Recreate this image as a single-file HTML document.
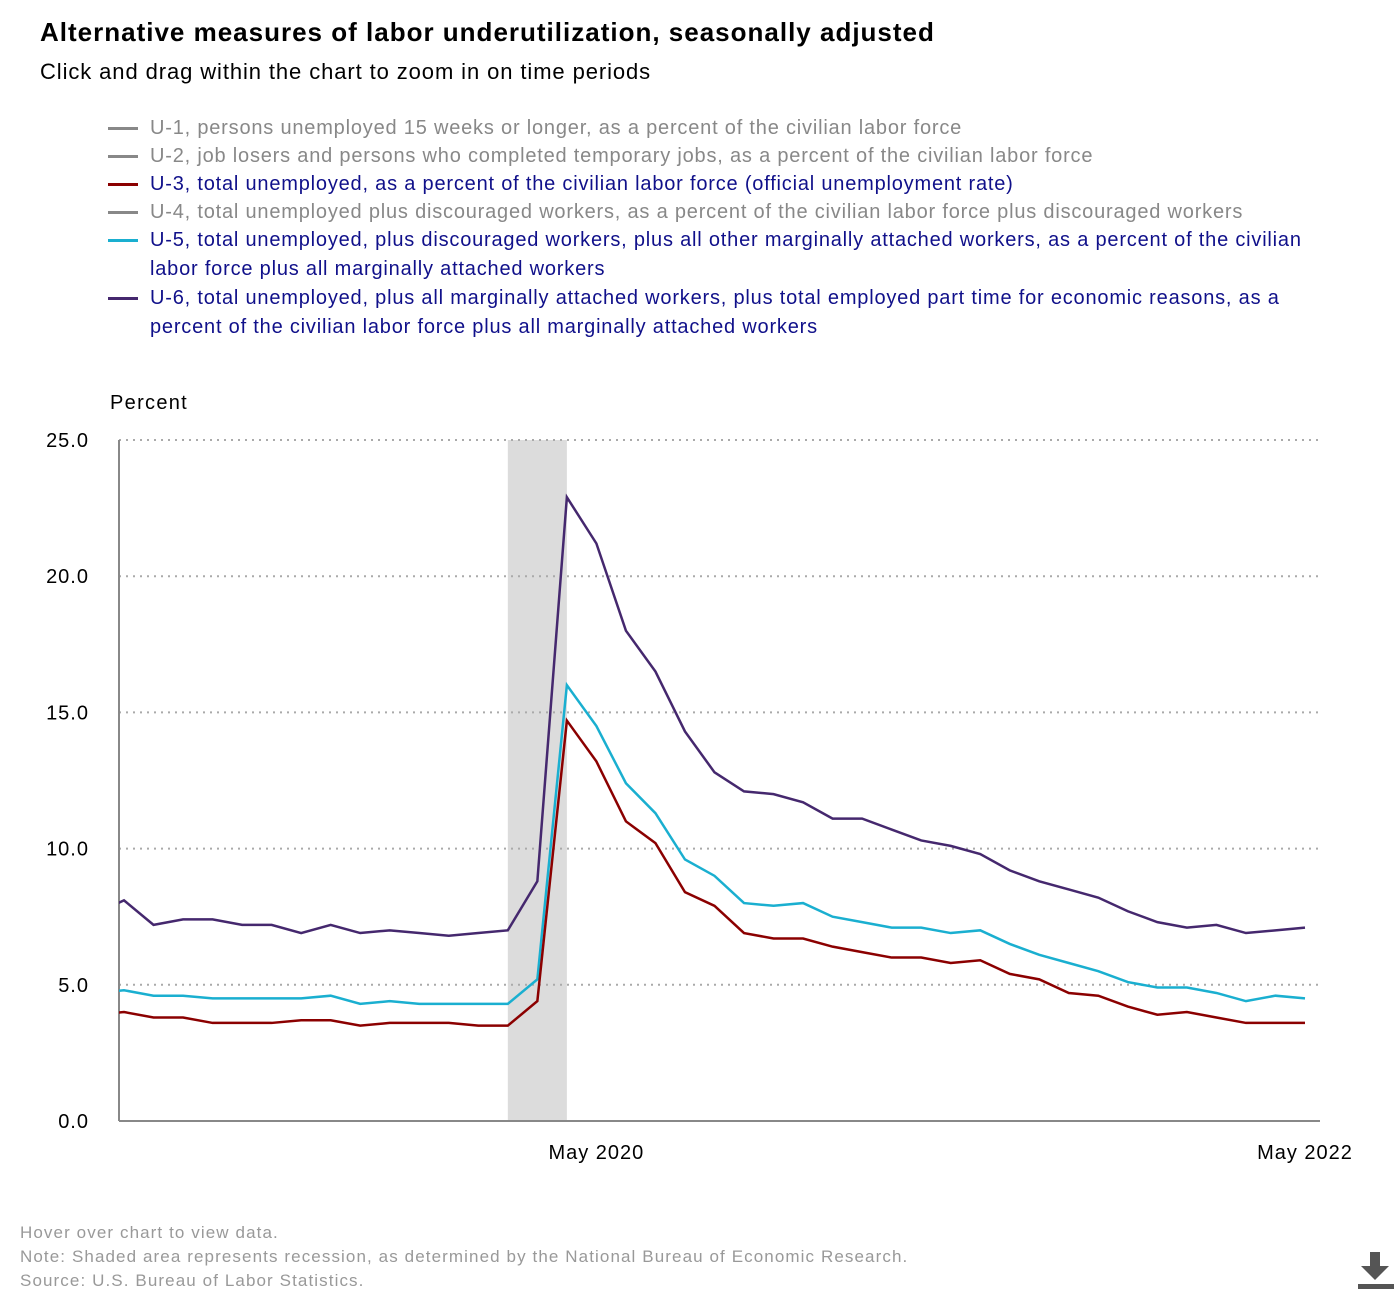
<!DOCTYPE html>
<html><head><meta charset="utf-8">
<style>
body{margin:0;width:1400px;height:1300px;background:#fff;font-family:"Liberation Sans",sans-serif;overflow:hidden;position:relative}
.t{position:absolute;white-space:nowrap}
.leg{position:absolute;left:108px;font-size:20px;line-height:29px;letter-spacing:0.8px}
.leg .mk{position:absolute;left:0;top:13px;width:30px;height:3px}
.leg .tx{margin-left:42px;display:block}
</style></head><body>
<div class="t" style="left:40px;top:17px;font-size:26px;font-weight:bold;letter-spacing:1px">Alternative measures of labor underutilization, seasonally adjusted</div>
<div class="t" style="left:40px;top:59px;font-size:22px;letter-spacing:0.9px">Click and drag within the chart to zoom in on time periods</div>

<div class="leg" style="top:114px;color:#888"><span class="mk" style="background:#888"></span><span class="tx">U-1, persons unemployed 15 weeks or longer, as a percent of the civilian labor force</span></div>
<div class="leg" style="top:142px;color:#888"><span class="mk" style="background:#888"></span><span class="tx">U-2, job losers and persons who completed temporary jobs, as a percent of the civilian labor force</span></div>
<div class="leg" style="top:170px;color:#10108a"><span class="mk" style="background:#8b0000"></span><span class="tx">U-3, total unemployed, as a percent of the civilian labor force (official unemployment rate)</span></div>
<div class="leg" style="top:198px;color:#888"><span class="mk" style="background:#888"></span><span class="tx">U-4, total unemployed plus discouraged workers, as a percent of the civilian labor force plus discouraged workers</span></div>
<div class="leg" style="top:226px;color:#10108a"><span class="mk" style="background:#1aafd0"></span><span class="tx">U-5, total unemployed, plus discouraged workers, plus all other marginally attached workers, as a percent of the civilian<br>labor force plus all marginally attached workers</span></div>
<div class="leg" style="top:284px;color:#10108a"><span class="mk" style="background:#45286e"></span><span class="tx">U-6, total unemployed, plus all marginally attached workers, plus total employed part time for economic reasons, as a<br>percent of the civilian labor force plus all marginally attached workers</span></div>

<svg id="chart" width="1400" height="1300" style="position:absolute;left:0;top:0" font-family="Liberation Sans, sans-serif"></svg>

<div class="t" style="left:20px;top:1223px;font-size:17px;color:#999;letter-spacing:1.1px">Hover over chart to view data.</div>
<div class="t" style="left:20px;top:1247px;font-size:17px;color:#999;letter-spacing:1.1px">Note: Shaded area represents recession, as determined by the National Bureau of Economic Research.</div>
<div class="t" style="left:20px;top:1271px;font-size:17px;color:#999;letter-spacing:1.1px">Source: U.S. Bureau of Labor Statistics.</div>
<svg width="40" height="44" style="position:absolute;left:1356px;top:1250px"><rect x="14" y="2" width="10" height="16" fill="#555"/><polygon points="5,16 33,16 19,30" fill="#555"/><rect x="2" y="34" width="36" height="5" fill="#555"/></svg>

<script>
const months=["Dec 2018","Jan 2019","Feb 2019","Mar 2019","Apr 2019","May 2019","Jun 2019","Jul 2019","Aug 2019","Sep 2019","Oct 2019","Nov 2019","Dec 2019","Jan 2020","Feb 2020","Mar 2020","Apr 2020","May 2020","Jun 2020","Jul 2020","Aug 2020","Sep 2020","Oct 2020","Nov 2020","Dec 2020","Jan 2021","Feb 2021","Mar 2021","Apr 2021","May 2021","Jun 2021","Jul 2021","Aug 2021","Sep 2021","Oct 2021","Nov 2021","Dec 2021","Jan 2022","Feb 2022","Mar 2022","Apr 2022","May 2022"];
const u3=[3.9,4.0,3.8,3.8,3.6,3.6,3.6,3.7,3.7,3.5,3.6,3.6,3.6,3.5,3.5,4.4,14.7,13.2,11.0,10.2,8.4,7.9,6.9,6.7,6.7,6.4,6.2,6.0,6.0,5.8,5.9,5.4,5.2,4.7,4.6,4.2,3.9,4.0,3.8,3.6,3.6,3.6];
const u5=[4.7,4.8,4.6,4.6,4.5,4.5,4.5,4.5,4.6,4.3,4.4,4.3,4.3,4.3,4.3,5.2,16.0,14.5,12.4,11.3,9.6,9.0,8.0,7.9,8.0,7.5,7.3,7.1,7.1,6.9,7.0,6.5,6.1,5.8,5.5,5.1,4.9,4.9,4.7,4.4,4.6,4.5];
const u6=[7.6,8.1,7.2,7.4,7.4,7.2,7.2,6.9,7.2,6.9,7.0,6.9,6.8,6.9,7.0,8.8,22.9,21.2,18.0,16.5,14.3,12.8,12.1,12.0,11.7,11.1,11.1,10.7,10.3,10.1,9.8,9.2,8.8,8.5,8.2,7.7,7.3,7.1,7.2,6.9,7.0,7.1];
const yTicks=[0,5,10,15,20,25];
const xTickLabels=["May 2020","May 2022"];
const recession=["Feb 2020","Apr 2020"];

const NS="http://www.w3.org/2000/svg",svg=document.getElementById('chart');
const X0=119,X1=1320,Y0=1121,Y1=440;
const iJan19=months.indexOf("Jan 2019"),iLast=months.length-1;
const x=i=>124+(i-iJan19)*(1305-124)/(iLast-iJan19);
const y=v=>Y0-(v/25)*(Y0-Y1);
function mk(t,a){const e=document.createElementNS(NS,t);for(const k in a)e.setAttribute(k,a[k]);svg.appendChild(e);return e;}

const defs=mk('defs',{});const cp=document.createElementNS(NS,'clipPath');cp.setAttribute('id','pc');
const cr=document.createElementNS(NS,'rect');cr.setAttribute('x',X0);cr.setAttribute('y',Y1-20);cr.setAttribute('width',X1-X0);cr.setAttribute('height',Y0-Y1+40);cp.appendChild(cr);defs.appendChild(cp);

const rs=mk('rect',{x:x(months.indexOf(recession[0])),y:Y1,width:x(months.indexOf(recession[1]))-x(months.indexOf(recession[0])),height:Y0-Y1,fill:'#dcdcdc'});



yTicks.forEach(v=>{
  if(v>0){const g=mk('line',{x1:X0,x2:X1,y1:y(v),y2:y(v),stroke:'#aaa','stroke-width':2,'stroke-dasharray':'2,5'});
  
  }
  const t=mk('text',{x:89,y:y(v)+7,'text-anchor':'end','font-size':20,'letter-spacing':1,fill:'#000'});t.textContent=v.toFixed(1);
  
  
});
const yl=mk('text',{x:110,y:409,'font-size':20,'letter-spacing':1.3,fill:'#000'});yl.textContent='Percent';



const ya=mk('line',{x1:X0,x2:X0,y1:Y1,y2:Y0,stroke:'#888','stroke-width':2});


const xa=mk('line',{x1:X0,x2:X1,y1:Y0,y2:Y0,stroke:'#888','stroke-width':2});


xTickLabels.forEach(l=>{const t=mk('text',{x:x(months.indexOf(l)),y:1159,'text-anchor':'middle','font-size':20,'letter-spacing':1,fill:'#000'});t.textContent=l;
  
  });

[[u6,'#45286e','series-u6'],[u5,'#1aafd0','series-u5'],[u3,'#8b0000','series-u3']].forEach(([d,c,n])=>{
  const p=mk('polyline',{points:d.map((v,i)=>x(i)+','+y(v)).join(' '),fill:'none',stroke:c,'stroke-width':2.5,'clip-path':'url(#pc)'});
  
  
});
</script>
</body></html>
